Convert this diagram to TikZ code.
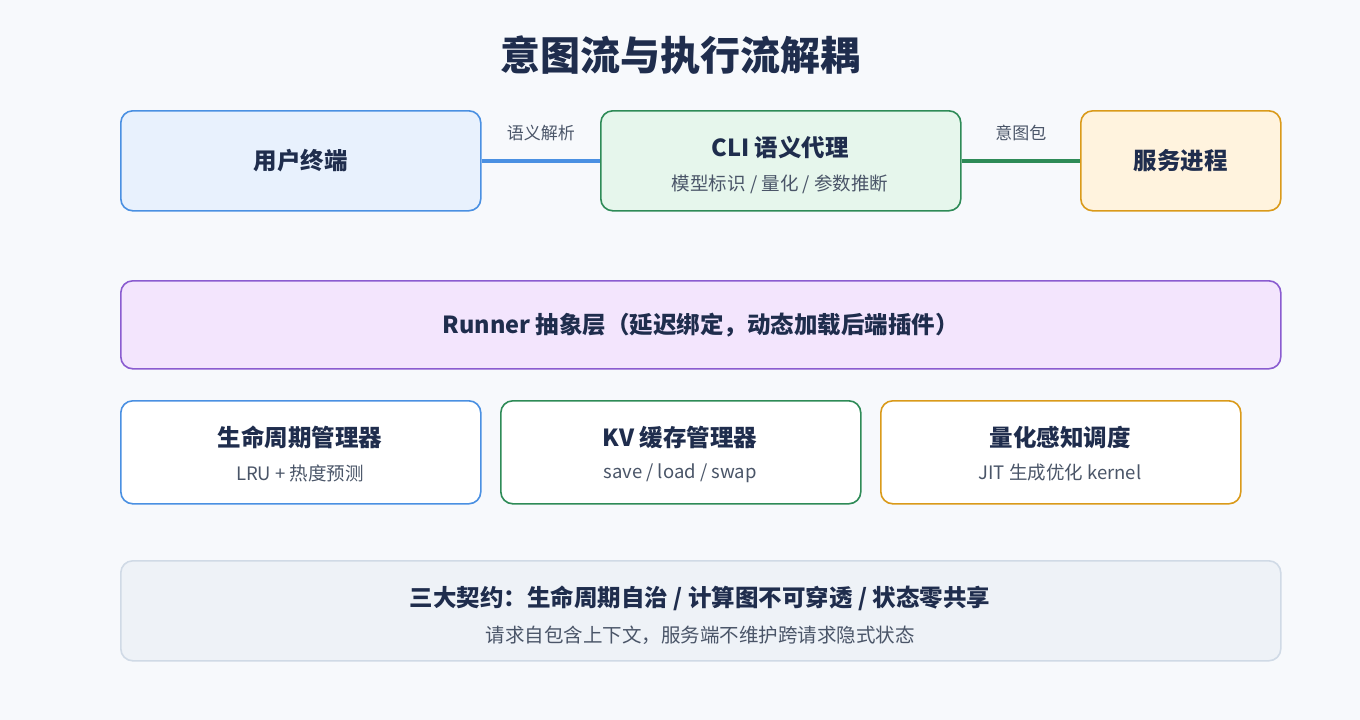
\documentclass[tikz,border=0pt]{standalone}
\usepackage{fontspec}
\setmainfont{Noto Sans CJK SC}
\usepackage{tikz}
\usetikzlibrary{positioning}

\definecolor{ink}{HTML}{1F2D4D}
\definecolor{subink}{HTML}{4A5568}
\definecolor{bluebd}{HTML}{4A90E2}
\definecolor{bluebg}{HTML}{E8F1FD}
\definecolor{greenbd}{HTML}{2E8B57}
\definecolor{greenbg}{HTML}{E6F6EC}
\definecolor{orangebd}{HTML}{DA9A1A}
\definecolor{orangebg}{HTML}{FFF3DE}
\definecolor{purplebd}{HTML}{8A5CD0}
\definecolor{purplebg}{HTML}{F3E5FD}
\definecolor{greybd}{HTML}{D0DAE6}
\definecolor{greybg}{HTML}{EEF2F7}
\definecolor{pagebg}{HTML}{F7F9FC}

\tikzset{
	box/.style={draw, line width=1.6pt, rounded corners=12pt, anchor=north west, inner sep=0pt},
	boxtitle/.style={font=\fontsize{23.5}{26}\selectfont\bfseries, text=ink},
	boxnote/.style={font=\fontsize{18.5}{21}\selectfont, text=subink},
	link/.style={line width=3.5pt},
}

\begin{document}
\begin{tikzpicture}[x=1pt, y=-1pt]

\fill[pagebg] (0,0) rectangle (1360,720);
\useasboundingbox (0,0) rectangle (1360,720);

% Title
\node [font=\fontsize{40}{46}\selectfont\bfseries, text=ink] (title) at (680,55) {意图流与执行流解耦};

% Top row
\node [box, draw=bluebd, fill=bluebg, minimum width=360pt, minimum height=100pt] (terminal) at (120,110) {};
\node [boxtitle] at (terminal.center) {用户终端};

\node [box, draw=greenbd, fill=greenbg, minimum width=360pt, minimum height=100pt] (agent) at (600,110) {};
\node [boxtitle] at (780,148) {CLI 语义代理};
\node [boxnote] at (780,184) {模型标识 / 量化 / 参数推断};

\node [box, draw=orangebd, fill=orangebg, minimum width=200pt, minimum height=100pt] (service) at (1080,110) {};
\node [boxtitle] at (service.center) {服务进程};

% Links
\draw[link, bluebd] (terminal.east) -- (agent.west) node[midway, above=15pt, boxnote, font=\fontsize{17}{19}\selectfont] {语义解析};
\draw[link, greenbd] (agent.east) -- (service.west) node[midway, above=15pt, boxnote, font=\fontsize{17}{19}\selectfont] {意图包};

% Runner layer
\node [box, draw=purplebd, fill=purplebg, minimum width=1160pt, minimum height=88pt] (runner) at (120,280) {};
\node [boxtitle] at (runner.center) {Runner 抽象层（延迟绑定，动态加载后端插件）};

% Managers
\node [box, draw=bluebd, fill=white, minimum width=360pt, minimum height=103pt] (lifecycle) at (120,400) {};
\node [boxtitle] at (300,437) {生命周期管理器};
\node [boxnote] at (300,473) {LRU + 热度预测};

\node [box, draw=greenbd, fill=white, minimum width=360pt, minimum height=103pt] (kvcache) at (500,400) {};
\node [boxtitle] at (680,437) {KV 缓存管理器};
\node [boxnote] at (680,473) {save / load / swap};

\node [box, draw=orangebd, fill=white, minimum width=360pt, minimum height=103pt] (quant) at (880,400) {};
\node [boxtitle] at (1060,437) {量化感知调度};
\node [boxnote] at (1060,473) {JIT 生成优化 kernel};

% Contracts
\node [box, draw=greybd, fill=greybg, minimum width=1160pt, minimum height=100pt] (contract) at (120,560) {};
\node [boxtitle] at (700,598) {三大契约：生命周期自治 / 计算图不可穿透 / 状态零共享};
\node [boxnote, font=\fontsize{19.5}{22}\selectfont] at (700,635) {请求自包含上下文，服务端不维护跨请求隐式状态};

\end{tikzpicture}
\end{document}
